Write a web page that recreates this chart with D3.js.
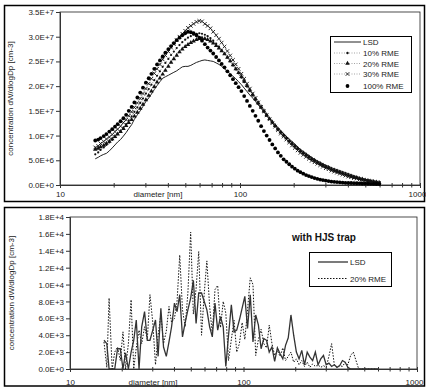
<!DOCTYPE html>
<html><head><meta charset="utf-8">
<script src="https://cdn.jsdelivr.net/npm/d3@7"></script>
<style>body{margin:0;background:#fff}svg{display:block;font-family:"Liberation Sans",Arial,sans-serif}</style>
</head><body><svg id="c" width="426" height="387"></svg>
<script>
// ---------- DATA ----------
const diameters = [15.7,16.3,16.8,17.5,18.1,18.8,19.5,20.2,20.9,21.7,
22.5,23.3,24.1,25.0,25.9,26.9,27.9,28.9,30.0,31.1,
32.2,33.4,34.6,35.9,37.2,38.5,40.0,41.4,42.9,44.5,
46.1,47.8,49.6,51.4,53.3,55.2,57.3,59.4,61.5,63.8,
66.1,68.5,71.0,73.7,76.4,79.1,82.0,85.1,88.2,91.4,
94.7,98.2,101.8,105.5,109.4,113.4,117.6,121.9,126.3,131.0,
135.8,140.7,145.9,151.2,156.8,162.5,168.5,174.7,181.1,187.7,
194.6,201.7,209.1,216.7,224.7,232.9,241.4,250.3,259.5,269.0,
278.8,289.0,299.6,310.6,322.0,333.8,346.0,358.7,371.8,385.4,
399.5,414.2,429.4,445.1,461.4,478.3,495.8,514.0,532.8,552.3,
572.5,593.5];

// top panel, values in 1E+6 cm-3
const lsd = [5.3,5.6,5.9,6.2,6.4,6.9,7.5,8.1,8.7,9.2,
9.9,10.6,11.4,12.2,13.3,14.2,15.0,15.9,16.9,17.6,
18.4,19.3,20.1,20.9,21.6,21.9,22.2,22.5,22.8,23.1,
23.5,23.9,24.0,24.0,24.2,24.5,24.8,25.0,25.2,25.3,
25.2,25.1,25.0,24.7,24.4,24.0,23.5,23.0,22.5,22.0,
21.5,20.9,20.3,19.6,18.9,18.2,17.6,16.9,16.2,15.5,
14.8,14.1,13.5,12.8,12.2,11.6,11.0,10.4,9.8,9.3,
8.8,8.3,7.7,7.2,6.8,6.4,6.0,5.6,5.2,4.9,
4.6,4.3,4.0,3.8,3.5,3.3,3.1,2.9,2.7,2.5,
2.3,2.1,1.9,1.7,1.5,1.3,1.2,1.0,0.9,0.7,
0.6,0.5];
const rme10 = [6.2,6.6,7.1,7.6,8.1,8.6,9.1,9.7,10.3,10.9,
11.6,12.3,13.1,13.9,14.8,15.7,16.6,17.5,18.5,19.4,
20.3,21.2,22.1,23.0,23.9,24.7,25.5,26.3,27.0,27.7,
28.3,28.9,29.4,29.8,30.1,30.4,30.6,30.7,30.6,30.4,
30.1,29.7,29.2,28.6,28.0,27.3,26.6,25.8,25.0,24.2,
23.4,22.6,21.7,20.8,19.9,19.0,18.1,17.2,16.4,15.6,
14.8,14.0,13.3,12.6,11.9,11.2,10.6,10.0,9.4,8.8,
8.3,7.8,7.3,6.8,6.4,6.0,5.6,5.2,4.9,4.5,
4.2,3.9,3.6,3.4,3.1,2.9,2.7,2.5,2.3,2.1,
1.9,1.7,1.6,1.4,1.3,1.1,1.0,0.9,0.8,0.7,
0.6,0.5];
const rme20 = [7.2,7.4,7.7,8.0,8.4,8.8,9.3,9.8,10.3,10.8,
11.4,12.0,12.6,13.2,13.9,14.7,15.5,16.3,17.2,18.1,
19.0,19.9,20.8,21.6,22.4,23.2,24.0,24.8,25.5,26.2,
26.9,27.5,28.0,28.4,28.8,29.1,29.4,29.6,29.7,29.6,
29.4,29.1,28.7,28.2,27.7,27.1,26.5,25.8,25.1,24.3,
23.5,22.7,21.9,21.0,20.1,19.2,18.3,17.4,16.6,15.8,
15.0,14.2,13.4,12.7,12.0,11.3,10.7,10.1,9.5,8.9,
8.4,7.9,7.4,6.9,6.5,6.1,5.7,5.3,5.0,4.6,
4.3,4.0,3.7,3.5,3.2,3.0,2.8,2.6,2.4,2.2,
2.0,1.8,1.6,1.5,1.3,1.2,1.0,0.9,0.8,0.7,
0.6,0.5];
const rme30 = [7.6,7.9,8.4,8.8,9.3,9.7,10.2,10.8,11.3,11.9,
12.6,13.2,14.0,14.8,15.7,16.6,17.5,18.5,19.5,20.5,
21.5,22.6,23.5,24.4,25.4,26.2,27.0,27.8,28.5,29.3,
30.0,30.6,31.2,31.8,32.2,32.6,33.0,33.2,33.1,32.6,
32.2,31.7,31.0,30.3,29.6,28.8,28.0,27.1,26.2,25.3,
24.4,23.5,22.5,21.5,20.5,19.5,18.5,17.6,16.7,15.8,
14.9,14.1,13.3,12.5,11.8,11.1,10.4,9.8,9.2,8.6,
8.0,7.5,7.0,6.5,6.1,5.7,5.3,4.9,4.6,4.3,
4.0,3.7,3.4,3.2,2.9,2.7,2.5,2.3,2.1,1.9,
1.7,1.6,1.4,1.3,1.1,1.0,0.9,0.8,0.7,0.6,
0.5,0.4];
const rme100 = [9.0,9.2,9.5,9.9,10.3,10.8,11.3,11.8,12.3,12.9,
13.5,14.2,15.0,15.8,16.7,17.7,18.7,19.7,20.7,21.6,
22.5,23.5,24.4,25.2,26.0,26.8,27.5,28.1,28.7,29.3,
29.8,30.3,30.7,31.0,30.9,30.7,30.3,29.8,29.2,28.5,
27.8,27.2,26.6,25.9,25.2,24.5,23.8,23.0,22.2,21.4,
20.6,19.8,19.0,18.0,17.0,16.0,15.0,14.0,13.0,11.9,
10.9,10.0,9.1,8.2,7.4,6.6,5.9,5.2,4.7,4.2,
3.7,3.3,2.9,2.6,2.3,2.0,1.8,1.6,1.4,1.25,
1.1,1.0,0.9,0.8,0.7,0.65,0.6,0.55,0.5,0.45,
0.42,0.4,0.37,0.35,0.33,0.3,0.28,0.26,0.24,0.22,
0.2,0.18];

// bottom panel (with HJS trap), values in 1E+3 cm-3
const trapLsd = [3.4,3.0,0,0,0,2.4,2.4,0,1.9,0,
2.0,3.4,5.8,0,5.0,6.8,3.4,3.4,4.6,5.8,
1.5,7.2,2.6,1.5,3.2,5.0,7.8,6.8,8.8,3.8,
5.5,7.0,8.4,10.5,5.4,9.0,9.0,8.0,7.0,5.0,
3.8,7.8,4.6,6.2,5.0,0.3,4.0,7.6,4.4,4.6,
5.8,7.2,8.6,4.8,8.8,3.2,6.4,5.2,2.4,3.6,
3.4,2.0,2.6,0.9,2.5,1.8,1.2,2.8,3.7,6.4,
4.0,2.0,1.2,2.2,0.5,2.0,1.4,1.0,2.0,0.5,
1.2,1.6,0.5,0.7,0.3,0.5,0.2,0.4,1.0,0.8,
0.2,0,0,0,0,0,0,0,0,0,
0,0];
const trapRme20 = [3.2,0.2,8.4,0,2.0,2.6,1.0,4.4,0,3.0,
8.2,0,2.5,4.6,3.0,5.0,3.5,8.8,5.5,0.5,
4.0,6.5,3.0,4.5,7.4,5.5,6.0,8.0,13.5,7.0,
5.0,9.0,16.2,6.5,9.5,13.9,4.0,9.0,12.8,7.4,
4.2,9.4,9.9,4.9,8.0,6.6,1.0,3.5,5.8,2.0,
3.0,5.5,3.5,7.0,10.8,10.0,1.6,3.5,4.7,3.0,
2.5,5.2,3.0,1.6,2.2,1.5,2.5,1.0,1.5,2.0,
0.8,1.2,0.5,1.0,0.3,0.8,0.2,0.6,0.3,0.5,
0.2,0.4,0.2,1.5,3.0,0.5,0.2,0.4,0.3,0.8,
0.5,1.6,2.0,1.0,0,0,0,0,0,0,
0,0];

const topYTicks = [0,5e6,1e7,1.5e7,2e7,2.5e7,3e7,3.5e7];
const topYLabels = ["0.0E+0","5.0E+6","1.0E+7","1.5E+7","2.0E+7","2.5E+7","3.0E+7","3.5E+7"];
const botYTicks = [0,2e3,4e3,6e3,8e3,1e4,1.2e4,1.4e4,1.6e4,1.8e4];
const botYLabels = ["0.0E+0","2.0E+3","4.0E+3","6.0E+3","8.0E+3","1.0E+4","1.2E+4","1.4E+4","1.6E+4","1.8E+4"];
const xMajor = [10,100,1000];
const xMajorLabels = ["10","100","1000"];
const xMinor = [20,30,40,50,60,70,80,90,200,300,400,500,600,700,800,900];
const topLegend = ["LSD","10% RME","20% RME","30% RME","100% RME"];
const botLegend = ["LSD","20% RME"];
const xTitle = "diameter [nm]";
const yTitle = "concentration dW/dlogDp [cm-3]";
const botTitle = "with HJS trap";

// ---------- DRAW ----------
const svg = d3.select("#c");
svg.append("rect").attr("width",426).attr("height",387).attr("fill","#fff");
svg.append("rect").attr("x",4.5).attr("y",5.5).attr("width",420).attr("height",196)
  .attr("fill","none").attr("stroke","#000").attr("stroke-width",1.5);
svg.append("rect").attr("x",4.5).attr("y",207.5).attr("width",420).attr("height",178.5)
  .attr("fill","none").attr("stroke","#000").attr("stroke-width",1.5);

function panel(o){
  const g = svg.append("g");
  const x = d3.scaleLog().domain([10,1000]).range([o.x0,o.x1]);
  const y = d3.scaleLinear().domain([0,o.ymax]).range([o.yb,o.yt]);
  g.append("rect").attr("x",o.x0).attr("y",o.yt).attr("width",o.x1-o.x0).attr("height",o.yb-o.yt)
    .attr("fill","#fff").attr("stroke","#222").attr("stroke-width",0.8);
  const ya = d3.axisLeft(y).tickValues(o.yTicks).tickSize(4).tickFormat((d,i)=>o.yLabels[i]);
  const yg = g.append("g").attr("transform",`translate(${o.x0},0)`).call(ya);
  yg.select(".domain").attr("stroke","#333").attr("stroke-width",1);
  yg.selectAll(".tick line").attr("stroke","#333");
  yg.selectAll("text").attr("font-size",8).attr("fill","#222").attr("x",-6);
  const xa = d3.axisBottom(x).tickValues(xMajor).tickSize(3).tickFormat((d,i)=>xMajorLabels[i]);
  const xg = g.append("g").attr("transform",`translate(0,${o.yb})`).call(xa);
  xg.select(".domain").attr("stroke","#333").attr("stroke-width",1);
  xg.selectAll(".tick line").attr("stroke","#333").attr("y1",-2);
  xg.selectAll("text").attr("font-size",8).attr("fill","#222").attr("y",o.xLabY).attr("dy",0);
  xg.selectAll("text").filter(d=>d===1000).attr("x",o.lastDx);
  g.append("g").selectAll("line").data(xMinor).join("line")
    .attr("x1",d=>x(d)).attr("x2",d=>x(d)).attr("y1",o.yb-2).attr("y2",o.yb+2.5)
    .attr("stroke","#333").attr("stroke-width",1);
  g.append("text").attr("x",o.xTitleX).attr("y",o.yb+o.xLabY).attr("font-size",8)
    .attr("text-anchor","middle").attr("fill","#222").text(xTitle);
  g.append("text").attr("transform",`translate(${o.yTitleX},${(o.yt+o.yb)/2}) rotate(-90)`)
    .attr("font-size",8).attr("text-anchor","middle").attr("fill","#222").text(yTitle);
  return {g,x,y};
}

// top panel
const T = panel({x0:60,x1:420,yt:12,yb:185,ymax:3.5e7,yTicks:topYTicks,yLabels:topYLabels,
  xLabY:11.5,xTitleX:158,yTitleX:13,lastDx:-3});
const tx = d => T.x(d), ty = v => T.y(v*1e6);
const lineT = arr => d3.line().x((d,i)=>tx(diameters[i])).y(d=>ty(d))(arr);
T.g.append("path").attr("d",lineT(lsd)).attr("fill","none").attr("stroke","#222").attr("stroke-width",1);
[rme10,rme20,rme30].forEach(a=>{
  T.g.append("path").attr("d",lineT(a)).attr("fill","none").attr("stroke","#555")
   .attr("stroke-width",0.6).attr("stroke-dasharray","1,1.5");
});
const symTri = d3.symbol().type(d3.symbolTriangle).size(9);
const symX = d3.symbol().type(d3.symbolTimes).size(10);
T.g.append("g").selectAll("circle").data(rme10).join("circle")
  .attr("cx",(d,i)=>tx(diameters[i])).attr("cy",d=>ty(d)).attr("r",1.1).attr("fill","#111");
T.g.append("g").selectAll("path").data(rme20).join("path").attr("d",symTri)
  .attr("transform",(d,i)=>`translate(${tx(diameters[i])},${ty(d)})`).attr("fill","#111");
T.g.append("g").selectAll("path").data(rme30).join("path").attr("d",symX)
  .attr("transform",(d,i)=>`translate(${tx(diameters[i])},${ty(d)})`)
  .attr("fill","none").attr("stroke","#111").attr("stroke-width",0.9);
T.g.append("g").selectAll("circle").data(rme100).join("circle")
  .attr("cx",(d,i)=>tx(diameters[i])).attr("cy",d=>ty(d)).attr("r",1.9).attr("fill","#000");

// top legend
const L = T.g.append("g");
L.append("rect").attr("x",330.5).attr("y",36.5).attr("width",81).attr("height",56)
  .attr("fill","#fff").attr("stroke","#000").attr("stroke-width",1);
const rowsY = [42,53,63.5,74,86];
topLegend.forEach((t,i)=>{
  const yy = rowsY[i];
  if(i===0) L.append("line").attr("x1",334).attr("x2",361).attr("y1",yy).attr("y2",yy).attr("stroke","#222").attr("stroke-width",1);
  else if(i<4) L.append("line").attr("x1",334).attr("x2",361).attr("y1",yy).attr("y2",yy).attr("stroke","#666").attr("stroke-width",0.6).attr("stroke-dasharray","1,1.5");
  if(i===1) L.append("circle").attr("cx",347.5).attr("cy",yy).attr("r",1.2).attr("fill","#111");
  if(i===2) L.append("path").attr("d",symTri).attr("transform",`translate(347.5,${yy})`).attr("fill","#111");
  if(i===3) L.append("path").attr("d",symX).attr("transform",`translate(347.5,${yy})`).attr("fill","none").attr("stroke","#111").attr("stroke-width",0.9);
  if(i===4) L.append("circle").attr("cx",347.5).attr("cy",yy).attr("r",1.9).attr("fill","#000");
  L.append("text").attr("x",363).attr("y",yy+3).attr("font-size",8).attr("fill","#222").text(t);
});

// bottom panel
const B = panel({x0:70,x1:417,yt:217,yb:369,ymax:1.8e4,yTicks:botYTicks,yLabels:botYLabels,
  xLabY:16,xTitleX:153,yTitleX:14,lastDx:-3});
const lineB = arr => d3.line().x((d,i)=>B.x(diameters[i])).y(d=>B.y(d*1e3))(arr);
B.g.append("path").attr("d",lineB(trapRme20)).attr("fill","none").attr("stroke","#111")
  .attr("stroke-width",1).attr("stroke-dasharray","1.5,1.5");
B.g.append("path").attr("d",lineB(trapLsd)).attr("fill","none").attr("stroke","#333").attr("stroke-width",1.3);
B.g.append("text").attr("x",324).attr("y",241).attr("font-size",10).attr("font-weight","bold")
  .attr("text-anchor","middle").attr("fill","#111").text(botTitle);
const L2 = B.g.append("g");
L2.append("rect").attr("x",309.5).attr("y",252.5).attr("width",82).attr("height",34)
  .attr("fill","#fff").attr("stroke","#000").attr("stroke-width",1);
L2.append("line").attr("x1",318).attr("x2",348).attr("y1",262).attr("y2",262).attr("stroke","#333").attr("stroke-width",1.3);
L2.append("line").attr("x1",318).attr("x2",348).attr("y1",278.5).attr("y2",278.5).attr("stroke","#111").attr("stroke-width",1).attr("stroke-dasharray","1.5,1.5");
botLegend.forEach((t,i)=>{
  L2.append("text").attr("x",350).attr("y",[265,281.5][i]).attr("font-size",8).attr("fill","#222").text(t);
});
</script></body></html>
